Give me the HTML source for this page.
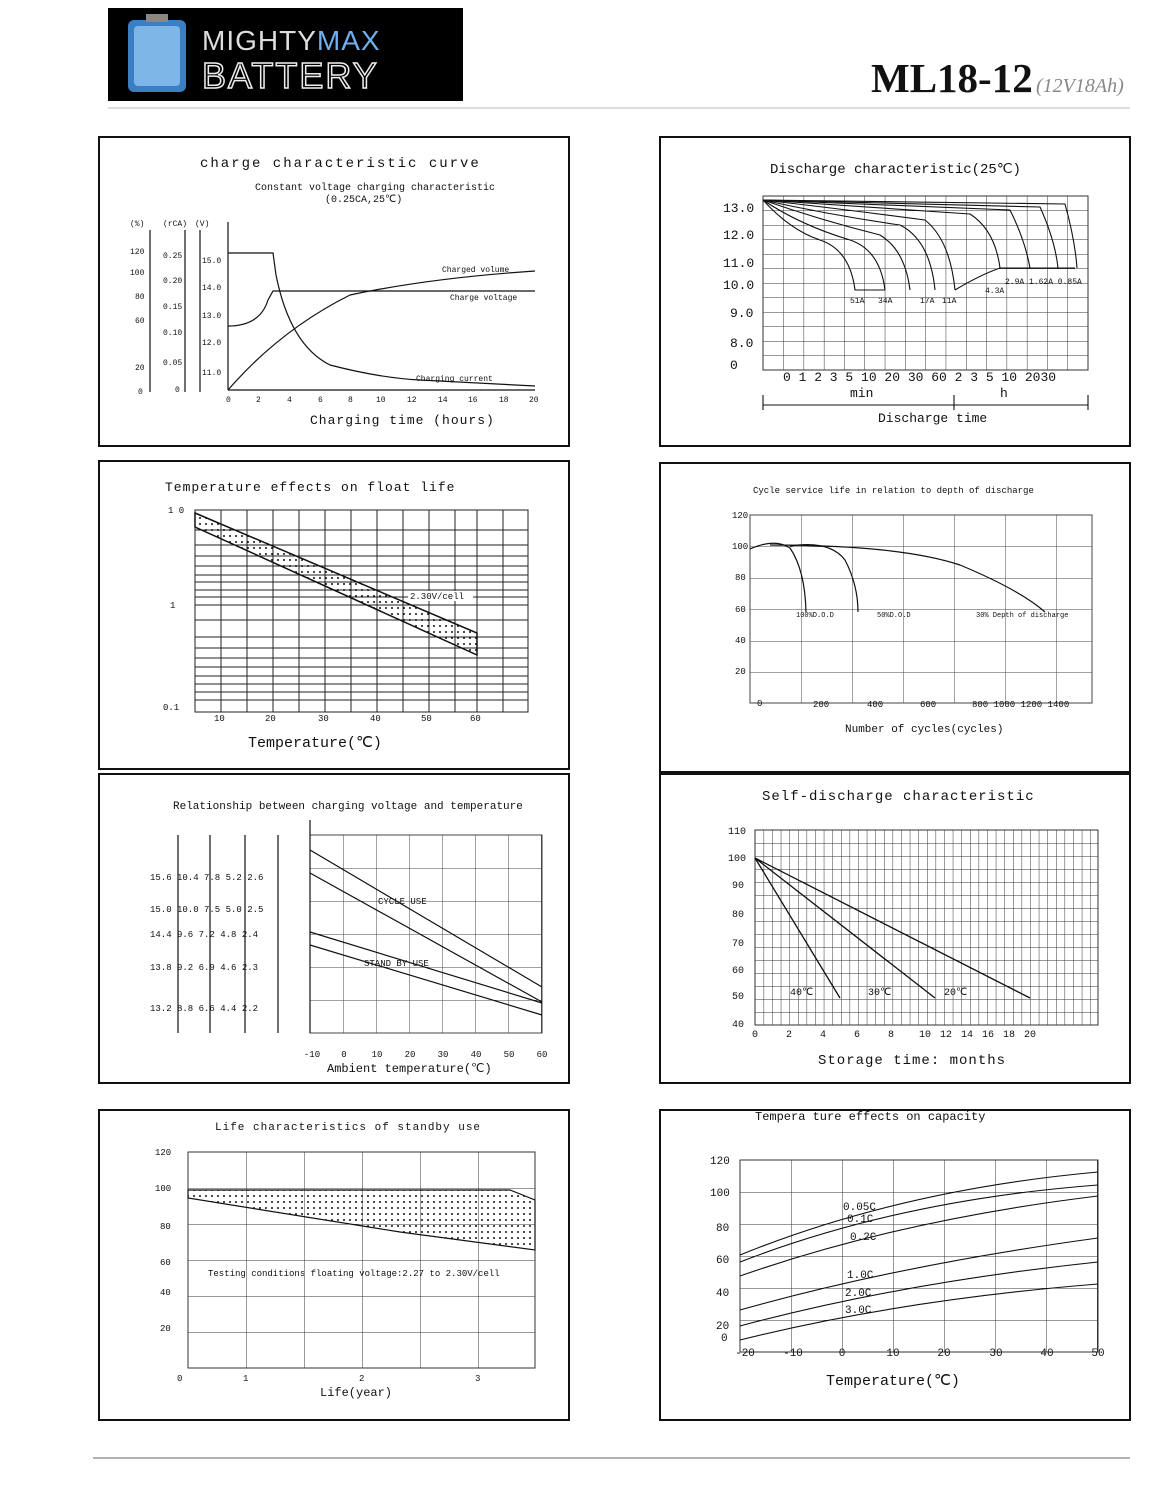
<!DOCTYPE html>
<html><head><meta charset="utf-8"><style>
html,body{margin:0;padding:0;background:#fff;}
svg{display:block;font-family:"Liberation Serif",serif;}
.t{font-family:"Liberation Mono",monospace;fill:#111;}
</style></head><body>
<svg width="1165" height="1500" viewBox="0 0 1165 1500" xmlns="http://www.w3.org/2000/svg">
<defs>
<pattern id="g2" x="763" y="196" width="20.3" height="14.5" patternUnits="userSpaceOnUse"><path d="M0 0H20.3M0 0V14.5" stroke="#333" stroke-width="1" fill="none"/></pattern>
<pattern id="g4" x="750" y="515" width="51" height="31.5" patternUnits="userSpaceOnUse"><path d="M0 0H51M0 0V31.5" stroke="#444" stroke-width="1" fill="none"/></pattern>
<pattern id="g5" x="310" y="835" width="33" height="33" patternUnits="userSpaceOnUse"><path d="M0 0H33M0 0V33" stroke="#444" stroke-width="1" fill="none"/></pattern>
<pattern id="g6" x="755" y="830" width="8.6" height="13" patternUnits="userSpaceOnUse"><path d="M0 0H8.6M0 0V13" stroke="#333" stroke-width="1" fill="none"/></pattern>
<pattern id="g7" x="188" y="1152" width="58" height="36" patternUnits="userSpaceOnUse"><path d="M0 0H58M0 0V36" stroke="#333" stroke-width="1" fill="none"/></pattern>
<pattern id="g8" x="740" y="1160" width="51" height="32" patternUnits="userSpaceOnUse"><path d="M0 0H51M0 0V32" stroke="#333" stroke-width="1" fill="none"/></pattern>
<pattern id="dots" width="6" height="6" patternUnits="userSpaceOnUse"><circle cx="2" cy="2" r="1" fill="#111"/></pattern>
</defs>

<!-- header -->
<rect x="108" y="8" width="355" height="93" fill="#000"/>
<rect x="128" y="20" width="58" height="72" rx="6" fill="#3a7fc4"/>
<rect x="134" y="26" width="46" height="60" rx="4" fill="#7fb6e8"/>
<rect x="146" y="14" width="22" height="8" fill="#888"/>
<text x="202" y="50" font-family="Liberation Sans,sans-serif" font-size="28" fill="#ddd" letter-spacing="1">MIGHTY<tspan fill="#6fb0ee">MAX</tspan></text>
<text x="202" y="88" font-family="Liberation Sans,sans-serif" font-size="36" fill="none" stroke="#eee" stroke-width="1.5" letter-spacing="2">BATTERY</text>
<text x="871" y="92" font-size="41" font-weight="bold" fill="#111">ML18-12</text>
<text x="1036" y="92" font-size="20" font-style="italic" fill="#888">(12V18Ah)</text>
<line x1="108" y1="108" x2="1130" y2="108" stroke="#bbb"/>
<line x1="93" y1="1458" x2="1130" y2="1458" stroke="#666"/>

<!-- panels -->
<g fill="none" stroke="#111" stroke-width="2">
<rect x="99" y="137" width="470" height="309"/>
<rect x="660" y="137" width="470" height="309"/>
<rect x="99" y="461" width="470" height="308"/>
<rect x="660" y="463" width="470" height="309"/>
<rect x="99" y="774" width="470" height="309"/>
<rect x="660" y="774" width="470" height="309"/>
<rect x="99" y="1110" width="470" height="310"/>
<rect x="660" y="1110" width="470" height="310"/>
</g>

<!-- chart 1 -->
<text class="t" x="200" y="167" font-size="14" letter-spacing="2">charge characteristic curve</text>
<text class="t" x="255" y="190" font-size="10">Constant voltage charging characteristic</text>
<text class="t" x="325" y="202" font-size="10">(0.25CA,25℃)</text>
<g stroke="#111" fill="none" stroke-width="1.2">
<line x1="228" y1="222" x2="228" y2="390"/><line x1="228" y1="390" x2="535" y2="390"/>
<line x1="150" y1="230" x2="150" y2="392"/><line x1="185" y1="230" x2="185" y2="392"/><line x1="200" y1="230" x2="200" y2="392"/>
<path d="M228 253H273L276 275Q290 345 330 365Q380 378 420 380L535 386"/>
<path d="M228 326Q260 326 268 300L273 291H535"/>
<path d="M228 390Q280 330 350 295Q430 278 535 271"/>
</g>
<g class="t" font-size="8">
<text x="130" y="254">120</text><text x="130" y="275">100</text><text x="135" y="299">80</text><text x="135" y="323">60</text><text x="135" y="370">20</text><text x="138" y="394">0</text>
<text x="163" y="258">0.25</text><text x="163" y="283">0.20</text><text x="163" y="309">0.15</text><text x="163" y="335">0.10</text><text x="163" y="365">0.05</text><text x="175" y="392">0</text>
<text x="202" y="263">15.0</text><text x="202" y="290">14.0</text><text x="202" y="318">13.0</text><text x="202" y="345">12.0</text><text x="202" y="375">11.0</text>
<text x="130" y="226">(%)</text><text x="163" y="226">(rCA)</text><text x="195" y="226">(V)</text>
<text x="442" y="272">Charged volume</text><text x="450" y="300">Charge voltage</text><text x="416" y="381">Charging current</text>
<text x="226" y="402">0</text><text x="256" y="402">2</text><text x="287" y="402">4</text><text x="318" y="402">6</text><text x="348" y="402">8</text><text x="376" y="402">10</text><text x="407" y="402">12</text><text x="438" y="402">14</text><text x="468" y="402">16</text><text x="499" y="402">18</text><text x="529" y="402">20</text>
</g>
<text class="t" x="310" y="424" font-size="13" letter-spacing="1">Charging time (hours)</text>

<!-- chart 2 -->
<text class="t" x="770" y="173" font-size="14">Discharge characteristic(25℃)</text>
<rect x="763" y="196" width="325" height="174" fill="url(#g2)" stroke="#333"/>
<g class="t" font-size="13"><text x="723" y="212">13.0</text><text x="723" y="239">12.0</text><text x="723" y="267">11.0</text><text x="723" y="289">10.0</text><text x="730" y="317">9.0</text><text x="730" y="347">8.0</text><text x="730" y="369">0</text>
<text x="783" y="381">0 1 2 3 5 10 20 30 60 2 3 5 10 2030</text>
<text x="850" y="397">min</text><text x="1000" y="397">h</text><text x="878" y="422">Discharge time</text></g>
<g stroke="#111" fill="none" stroke-width="1.1">
<path d="M763 200Q790 230 820 240Q850 250 855 290H885"/>
<path d="M763 200Q800 225 850 240Q880 250 885 290"/>
<path d="M763 200Q820 220 880 235Q905 250 910 290"/>
<path d="M763 200Q830 215 900 225Q930 240 935 290"/>
<path d="M763 200Q850 210 925 220Q950 240 955 290"/>
<path d="M955 290Q980 275 1000 268L1075 268"/>
<path d="M763 200Q880 208 970 214Q995 230 1000 268"/>
<path d="M763 200Q900 206 1010 210Q1025 240 1030 268"/>
<path d="M763 200Q920 204 1040 207Q1055 240 1058 268"/>
<path d="M763 200Q940 202 1065 204Q1075 240 1077 268"/>
<line x1="763" y1="405" x2="1088" y2="405"/><line x1="763" y1="395" x2="763" y2="410"/><line x1="954" y1="395" x2="954" y2="410"/><line x1="1088" y1="395" x2="1088" y2="410"/>
</g>
<g class="t" font-size="8"><text x="850" y="303">51A</text><text x="878" y="303">34A</text><text x="920" y="303">17A</text><text x="942" y="303">11A</text><text x="985" y="293">4.3A</text><text x="1005" y="284">2.9A 1.62A 0.85A</text></g>

<!-- chart 3 -->
<text class="t" x="165" y="491" font-size="13" letter-spacing="1">Temperature effects on float life</text>
<g stroke="#222" stroke-width="1" fill="none">
<rect x="195" y="510" width="333" height="202"/>
<path d="M195 530H528M195 545H528M195 556H528M195 566H528M195 575H528M195 582H528M195 590H528M195 597H528M195 605H528M195 620H528M195 637H528M195 648H528M195 658H528M195 667H528M195 676H528M195 684H528M195 692H528M195 700H528"/>
<path d="M221 510V712M247 510V712M273 510V712M299 510V712M325 510V712M351 510V712M377 510V712M403 510V712M429 510V712M455 510V712M477 510V712M503 510V712"/>
</g>
<path d="M195 513L477 633L477 655L195 527Z" fill="url(#dots)" stroke="#111" stroke-width="1.5"/>
<rect x="408" y="591" width="65" height="10" fill="#fff"/>
<g class="t" font-size="9"><text x="410" y="599">2.30V/cell</text><text x="168" y="513">1 0</text><text x="170" y="608">1</text><text x="163" y="710">0.1</text>
<text x="214" y="721">10</text><text x="265" y="721">20</text><text x="318" y="721">30</text><text x="370" y="721">40</text><text x="421" y="721">50</text><text x="470" y="721">60</text></g>
<text class="t" x="248" y="747" font-size="15">Temperature(℃)</text>

<!-- chart 4 -->
<text class="t" x="753" y="493" font-size="9">Cycle service life in relation to depth of discharge</text>
<rect x="750" y="515" width="342" height="188" fill="url(#g4)" stroke="#444"/>
<g class="t" font-size="9"><text x="732" y="518">120</text><text x="732" y="549">100</text><text x="735" y="580">80</text><text x="735" y="612">60</text><text x="735" y="643">40</text><text x="735" y="674">20</text>
<text x="757" y="706">0</text><text x="813" y="707">200</text><text x="867" y="707">400</text><text x="920" y="707">600</text><text x="972" y="707">800 1000 1200 1400</text>
<text x="796" y="617" font-size="7">100%D.O.D</text><text x="877" y="617" font-size="7">50%D.O.D</text><text x="976" y="617" font-size="7">30% Depth of discharge</text></g>
<text class="t" x="845" y="732" font-size="11">Number of cycles(cycles)</text>
<g stroke="#111" fill="none" stroke-width="1.2">
<path d="M750 549Q775 538 790 548Q805 570 806 612"/>
<path d="M790 546Q830 540 845 560Q858 585 858 612"/>
<path d="M770 545Q900 545 960 565Q1020 590 1045 612"/>
</g>

<!-- chart 5 -->
<text class="t" x="173" y="809" font-size="11">Relationship between charging voltage and temperature</text>
<rect x="310" y="835" width="232" height="198" fill="url(#g5)" stroke="#444"/>
<g stroke="#111" fill="none" stroke-width="1.2">
<path d="M310 850L542 987M310 873L542 1002M310 932L542 1003M310 945L542 1015"/>
<path d="M178 835V1033M210 835V1033M245 835V1033M278 835V1033M310 820V1033"/>
</g>
<g class="t" font-size="9"><text x="150" y="880">15.6 10.4 7.8   5.2  2.6</text><text x="150" y="912">15.0 10.0 7.5   5.0  2.5</text><text x="150" y="937">14.4 9.6  7.2   4.8  2.4</text><text x="150" y="970">13.8 9.2  6.9   4.6  2.3</text><text x="150" y="1011">13.2 8.8 6.6  4.4  2.2</text>
<text x="378" y="904">CYCLE USE</text><text x="364" y="966">STAND BY USE</text></g>
<g class="t" font-size="9" text-anchor="middle"><text x="312" y="1057">-10</text><text x="344" y="1057">0</text><text x="377" y="1057">10</text><text x="410" y="1057">20</text><text x="443" y="1057">30</text><text x="476" y="1057">40</text><text x="509" y="1057">50</text><text x="542" y="1057">60</text></g>
<text class="t" x="327" y="1072" font-size="12">Ambient temperature(℃)</text>

<!-- chart 6 -->
<text class="t" x="762" y="800" font-size="14" letter-spacing="1">Self-discharge characteristic</text>
<rect x="755" y="830" width="343" height="195" fill="url(#g6)" stroke="#333"/>
<g class="t" font-size="10"><text x="728" y="834">110</text><text x="728" y="861">100</text><text x="732" y="888">90</text><text x="732" y="917">80</text><text x="732" y="946">70</text><text x="732" y="973">60</text><text x="732" y="999">50</text><text x="732" y="1027">40</text>
<text x="790" y="995">40℃</text><text x="868" y="995">30℃</text><text x="944" y="995">20℃</text></g>
<g class="t" font-size="10" text-anchor="middle"><text x="755" y="1037">0</text><text x="789" y="1037">2</text><text x="823" y="1037">4</text><text x="857" y="1037">6</text><text x="891" y="1037">8</text><text x="925" y="1037">10</text><text x="946" y="1037">12</text><text x="967" y="1037">14</text><text x="988" y="1037">16</text><text x="1009" y="1037">18</text><text x="1030" y="1037">20</text></g>
<g stroke="#111" fill="none" stroke-width="1.3"><path d="M755 858L840 998M755 858L935 998M755 858L1030 998"/></g>
<text class="t" x="818" y="1064" font-size="14" letter-spacing="1">Storage time: months</text>

<!-- chart 7 -->
<text class="t" x="215" y="1130" font-size="11" letter-spacing="1">Life characteristics of standby use</text>
<rect x="188" y="1152" width="347" height="216" fill="url(#g7)" stroke="#333"/>
<path d="M188 1190L510 1190L535 1200L535 1250L400 1232L188 1198Z" fill="url(#dots)" stroke="#111" stroke-width="1.2"/>
<g class="t" font-size="9"><text x="155" y="1155">120</text><text x="155" y="1191">100</text><text x="160" y="1229">80</text><text x="160" y="1265">60</text><text x="160" y="1295">40</text><text x="160" y="1331">20</text><text x="177" y="1381">0</text><text x="243" y="1381">1</text><text x="359" y="1381">2</text><text x="475" y="1381">3</text>
<text x="208" y="1276">Testing conditions floating voltage:2.27 to 2.30V/cell</text></g>
<text class="t" x="320" y="1396" font-size="12">Life(year)</text>

<!-- chart 8 -->
<text class="t" x="755" y="1120" font-size="12">Tempera ture effects on capacity</text>
<rect x="740" y="1160" width="358" height="192" fill="url(#g8)" stroke="#333"/>
<g stroke="#111" fill="none" stroke-width="1.1">
<path d="M740 1255Q900 1190 1098 1172"/><path d="M740 1262Q900 1200 1098 1185"/><path d="M740 1276Q900 1220 1098 1196"/>
<path d="M740 1310Q900 1265 1098 1238"/><path d="M740 1326Q900 1283 1098 1262"/><path d="M740 1340Q900 1300 1098 1284"/>
</g>
<g class="t" font-size="11"><text x="710" y="1164">120</text><text x="710" y="1196">100</text><text x="716" y="1231">80</text><text x="716" y="1263">60</text><text x="716" y="1296">40</text><text x="716" y="1329">20</text><text x="721" y="1341">0</text>
<text x="843" y="1210">0.05C</text><text x="847" y="1222">0.1C</text><text x="850" y="1240">0.2C</text><text x="847" y="1278">1.0C</text><text x="845" y="1296">2.0C</text><text x="845" y="1313">3.0C</text></g>
<g class="t" font-size="11" text-anchor="middle"><text x="745" y="1356">-20</text><text x="793" y="1356">-10</text><text x="842" y="1356">0</text><text x="893" y="1356">10</text><text x="944" y="1356">20</text><text x="996" y="1356">30</text><text x="1047" y="1356">40</text><text x="1098" y="1356">50</text></g>
<text class="t" x="826" y="1385" font-size="15">Temperature(℃)</text>
</svg>
</body></html>
